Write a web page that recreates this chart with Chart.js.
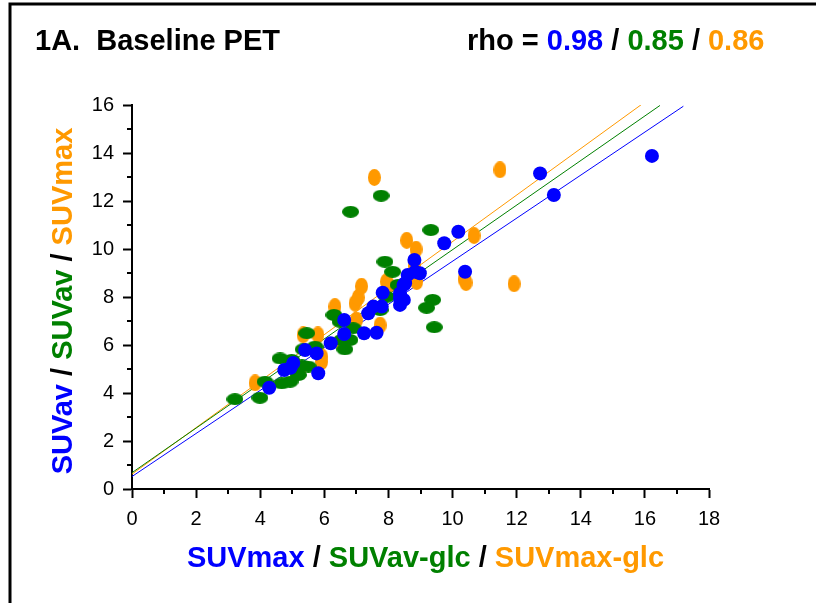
<!DOCTYPE html>
<html>
<head>
<meta charset="utf-8">
<script src="https://cdn.jsdelivr.net/npm/chart.js@4.4.1/dist/chart.umd.min.js"></script>
<style>
  html, body { margin: 0; padding: 0; background: #fff; }
  #wrap { width: 816px; height: 603px; }
</style>
</head>
<body>
<div id="wrap"><canvas id="suvChart" width="816" height="603"></canvas></div>
<script>
//  ========================================= values

// blue: SUVmax (x) vs SUVav (y)
const blueX = [4.28, 4.75, 4.95, 5.03, 5.4, 5.76, 5.81, 6.2, 6.62, 6.62, 7.24, 7.63, 7.37, 7.53, 7.79, 7.82,
               8.36, 8.48, 8.36, 8.36, 8.47, 8.52, 8.6, 8.83, 8.98, 8.81, 9.74, 10.18, 10.39, 12.73, 13.16, 16.22];
const blueY = [4.22, 4.96, 5.05, 5.25, 5.79, 5.65, 4.82, 6.07, 6.46, 7.04, 6.49, 6.51, 7.32, 7.6, 7.6, 8.18,
               7.94, 7.88, 7.67, 8.15, 8.5, 8.57, 8.92, 9.05, 8.99, 9.54, 10.24, 10.72, 9.05, 13.15, 12.25, 13.88];

// green: SUVav-glc (x) vs SUVav (y)
const greenX = [3.21, 3.99, 4.15, 4.67, 4.93, 5.19, 4.62, 4.98, 5.3, 5.5, 5.45, 5.71, 5.34, 6.3, 6.49, 6.64,
                6.8, 6.9, 6.54, 7.74, 7.94, 8.3, 7.89, 8.13, 9.32, 9.38, 9.19, 9.43, 6.82, 7.77];
const greenY = [3.74, 3.8, 4.47, 4.4, 4.47, 4.75, 5.44, 5.38, 5.15, 5.1, 6.49, 5.93, 5.82, 7.25, 6.97, 5.82,
                6.21, 6.7, 6.21, 7.46, 8.01, 8.5, 9.47, 9.05, 10.79, 7.88, 7.55, 6.74, 11.55, 12.22];

// orange: SUVmax-glc (x) vs SUVmax (y)
const orangeX = [3.84, 5.24, 5.34, 5.8, 5.92, 5.91, 6.33, 6.54, 6.96, 7.06, 7.16, 7.0, 7.74, 7.94, 8.0, 8.57,
                 8.86, 8.88, 8.8, 10.36, 10.42, 10.67, 11.92, 11.48, 7.56];
const orangeY = [4.42, 4.89, 6.42, 6.42, 5.51, 5.3, 7.6, 6.07, 7.74, 7.98, 8.45, 7.04, 6.83, 8.64, 8.5, 10.36,
                 9.99, 8.64, 9.3, 8.75, 8.6, 10.56, 8.55, 13.3, 12.98];

// fitted lines: blue, green, orange
const fitIntercept = [0.52, 0.68, 0.62];
const fitSlope = [0.897, 0.929, 0.969];
const fitXEnd = [17.2, 16.47, 15.9];

const rhoValues = ['0.98', '0.85', '0.86'];

const BLUE = '#0000ff', GREEN = '#008000', ORANGE = '#ff9900';
const FONT = "'Liberation Sans', Arial, sans-serif";

const pairs = (xs, ys) => xs.map((x, i) => ({ x: x, y: ys[i] }));
const fitLine = i => [
  { x: 0, y: fitIntercept[i] },
  { x: fitXEnd[i], y: fitIntercept[i] + fitSlope[i] * fitXEnd[i] }
];

// ellipse markers (green wide, orange tall)
function ellipseMark(w, h, color) {
  const c = document.createElement('canvas');
  c.width = w; c.height = h;
  const g = c.getContext('2d');
  g.fillStyle = color;
  g.beginPath();
  g.ellipse(w / 2, h / 2, w / 2, h / 2, 0, 0, Math.PI * 2);
  g.fill();
  return c;
}

function drawParts(ctx, parts, x, y, align) {
  let total = 0;
  parts.forEach(p => total += ctx.measureText(p[0]).width);
  let cx = align === 'center' ? x - total / 2 : x;
  ctx.textAlign = 'left';
  parts.forEach(p => {
    ctx.fillStyle = p[1];
    ctx.fillText(p[0], cx, y);
    cx += ctx.measureText(p[0]).width;
  });
}

const decor = {
  id: 'decor',
  afterDraw(chart) {
    const ctx = chart.ctx;
    const xs = chart.scales.x, ys = chart.scales.y;
    ctx.save();

    // frame (top + left)
    ctx.strokeStyle = '#000';
    ctx.lineWidth = 3;
    ctx.beginPath();
    ctx.moveTo(816, 4);
    ctx.lineTo(10, 4);
    ctx.lineTo(10, 603);
    ctx.stroke();

    // minor ticks
    ctx.lineWidth = 2;
    ctx.beginPath();
    for (let v = 1; v < 18; v += 2) {
      const px = Math.round(xs.getPixelForValue(v));
      ctx.moveTo(px, xs.top);
      ctx.lineTo(px, xs.top + 5);
    }
    for (let v = 1; v < 16; v += 2) {
      const py = Math.round(ys.getPixelForValue(v));
      ctx.moveTo(ys.right - 5, py);
      ctx.lineTo(ys.right, py);
    }
    ctx.stroke();

    // headings
    ctx.font = 'bold 29px ' + FONT;
    ctx.textBaseline = 'alphabetic';
    drawParts(ctx, [['1A.  Baseline PET', '#000']], 35, 50, 'left');
    drawParts(ctx, [['rho = ', '#000'], [rhoValues[0], BLUE], [' / ', '#000'],
                    [rhoValues[1], GREEN], [' / ', '#000'], [rhoValues[2], ORANGE]], 467, 50, 'left');

    // x title
    drawParts(ctx, [['SUVmax', BLUE], [' / ', '#000'], ['SUVav-glc', GREEN],
                    [' / ', '#000'], ['SUVmax-glc', ORANGE]], (xs.left + xs.right) / 2 + 5, 567, 'center');

    // y title
    ctx.translate(72, (ys.top + ys.bottom) / 2);
    ctx.rotate(-Math.PI / 2);
    drawParts(ctx, [['SUVav', BLUE], [' / ', '#000'], ['SUVav', GREEN],
                    [' / ', '#000'], ['SUVmax', ORANGE]], -4, 0, 'center');
    ctx.restore();
  }
};

const ctp = document.getElementById('suvChart').getContext('2d');
const suvChart = new Chart(ctp, {
  type: 'scatter',
  data: {
    datasets: [
      {
        label: 'SUVav vs SUVmax',
        data: pairs(blueX, blueY),
        backgroundColor: BLUE,
        pointStyle: 'circle',
        pointRadius: 7,
        pointBorderWidth: 0,
        order: 1
      },
      {
        label: 'SUVav vs SUVav-glc',
        data: pairs(greenX, greenY),
        pointStyle: ellipseMark(17, 12, GREEN),
        order: 2
      },
      {
        label: 'SUVmax vs SUVmax-glc',
        data: pairs(orangeX, orangeY),
        pointStyle: ellipseMark(13, 17, ORANGE),
        order: 3
      },
      {
        type: 'line', data: fitLine(0), borderColor: BLUE, borderWidth: 1,
        pointRadius: 0, showLine: true, fill: false, order: 10
      },
      {
        type: 'line', data: fitLine(1), borderColor: GREEN, borderWidth: 1,
        pointRadius: 0, showLine: true, fill: false, order: 10
      },
      {
        type: 'line', data: fitLine(2), borderColor: ORANGE, borderWidth: 1,
        pointRadius: 0, showLine: true, fill: false, order: 10
      }
    ]
  },
  options: {
    responsive: false,
    animation: false,
    devicePixelRatio: 1,
    layout: { padding: { left: 72, right: 107, top: 105, bottom: 74 } },
    plugins: {
      legend: { display: false },
      tooltip: { enabled: false },
      title: { display: false }
    },
    scales: {
      x: {
        type: 'linear',
        min: 0,
        max: 18,
        afterFit: s => { s.height = 40; },
        ticks: { stepSize: 2, color: '#000', font: { family: FONT, size: 20 }, padding: 9, maxRotation: 0 },
        grid: { drawOnChartArea: false, tickLength: 9, tickWidth: 2, tickColor: '#000' },
        border: { color: '#000', width: 2 }
      },
      y: {
        type: 'linear',
        min: 0,
        max: 16,
        afterFit: s => { s.width = 60; },
        ticks: { stepSize: 2, color: '#000', font: { family: FONT, size: 20 }, padding: 9 },
        grid: { drawOnChartArea: false, tickLength: 9, tickWidth: 2, tickColor: '#000' },
        border: { color: '#000', width: 2 }
      }
    }
  },
  plugins: [decor]
});
</script>
</body>
</html>
